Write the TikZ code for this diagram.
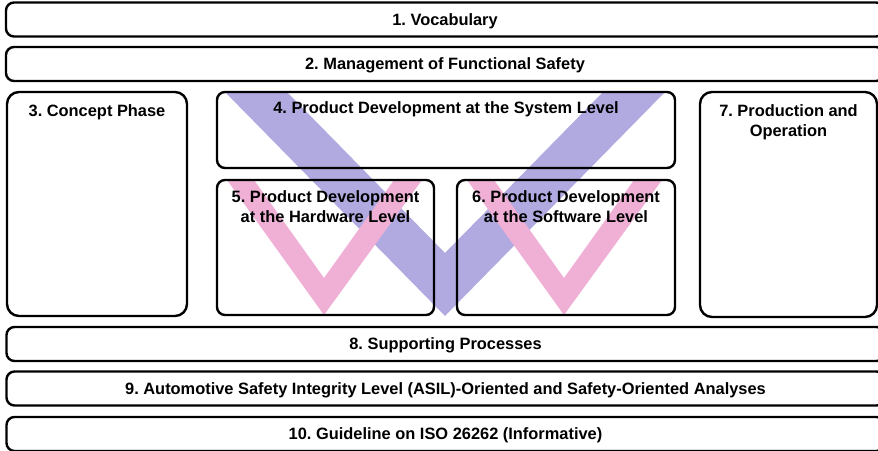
\documentclass[tikz,border=0pt]{standalone}
\usepackage{fontspec}
\setmainfont{Liberation Sans}
\usetikzlibrary{backgrounds, positioning}
\definecolor{vblue}{RGB}{176,170,225}
\definecolor{vpink}{RGB}{240,176,214}
\frenchspacing

\begin{document}
\begin{tikzpicture}[
    x=1pt, y=-1pt,
    lbl/.style={font=\bfseries\fontsize{16.4}{19.5}\selectfont, align=center},
    box/.style={draw, line width=2.4pt, rounded corners=8pt, inner sep=0pt, lbl},
    bar/.style={box, minimum width=878pt, minimum height=34pt, text depth=0pt},
    tall/.style={box, rounded corners=12pt},
    head/.style={lbl, anchor=north, inner sep=0pt}
]
\useasboundingbox (0,0) rectangle (878,450);
\clip (0,0) rectangle (878,450);

% full-width rows
\node[bar] (vocab)  at (445,19.5) {1. Vocabulary};
\node[bar] (manage) at (445,64)   {2. Management of Functional Safety};
\node[bar] (support) at (445.5,344) {8. Supporting Processes};
\node[bar] (asil)   at (445.5,388.5) {9. Automotive Safety Integrity Level (ASIL)-Oriented and Safety-Oriented Analyses};
\node[bar] (guide)  at (445.5,434) {10. Guideline on ISO 26262 (Informative)};

% phase boxes
\node[tall, minimum width=180pt, minimum height=224pt] (concept) at (97,204)    {};
\node[box,  minimum width=458pt, minimum height=76pt]  (system)  at (446,130)   {};
\node[box,  minimum width=217pt, minimum height=135pt] (hw)      at (325.5,247.5) {};
\node[box,  minimum width=218pt, minimum height=135pt] (sw)      at (566,247.5) {};
\node[tall, minimum width=177pt, minimum height=225pt] (prod)    at (788.5,204.5) {};

\node[head, below=14pt of concept.north] (conceptlbl) {3. Concept Phase};
\node[head, below=11pt of system.north]  (systemlbl)  {4. Product Development at the System Level};
\node[head, below=12pt of hw.north]      (hwlbl)      {5. Product Development\\at the Hardware Level};
\node[head, below=12pt of sw.north]      (swlbl)      {6. Product Development\\at the Software Level};
\node[head, below=14pt of prod.north]    (prodlbl)    {7. Production and\\Operation};

% V-model bands behind the boxes
\begin{scope}[on background layer]
  \fill[vblue] (225,92) -- (445,316) -- (665,92) -- (603,92) -- (445,253) -- (287,92) -- cycle;
  \foreach \dx in {0,240}
    \fill[vpink, xshift=\dx] (227,180) -- (324,315) -- (422,180) -- (394,180) -- (324,278) -- (254,180) -- cycle;
\end{scope}
\end{tikzpicture}
\end{document}
